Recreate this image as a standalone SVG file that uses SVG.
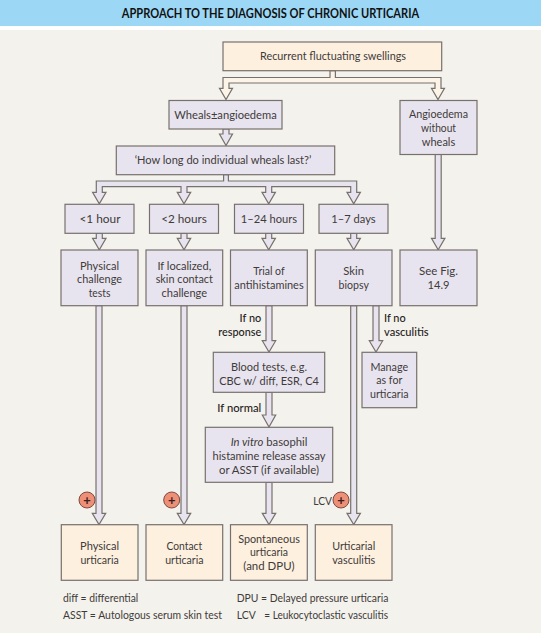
<svg xmlns="http://www.w3.org/2000/svg" width="541" height="633" viewBox="0 0 541 633">
<style>
text{font-family:"Lato","Open Sans","Liberation Sans",sans-serif;font-size:12px;fill:#3f3b3a;text-anchor:middle}
.title{font-weight:700;font-size:13.6px;fill:#111}
.l{fill:#1f1c1c;font-weight:500;text-anchor:end}
.ls{fill:#1f1c1c;font-weight:500;text-anchor:start}
.leg{font-size:11.4px;text-anchor:start}
.b{stroke:#77716d;stroke-width:1.2}
.lav{fill:#e8e4ef}
.cr{fill:#fdf0df}
.ar{stroke:#77716d;stroke-width:1.2;stroke-linejoin:miter}
.circ{fill:#ee8f78;stroke:#7c4a3e;stroke-width:1}
.plus{font-size:13px;font-weight:700;fill:#3a211b}
</style>
<rect width="541" height="633" fill="#ffffff"/>
<rect width="541" height="26" fill="#9cd7f5"/>
<rect y="30" width="541" height="603" fill="#f4f2ec"/>
<text class="title" x="270.5" y="18" textLength="297.4" lengthAdjust="spacingAndGlyphs">APPROACH TO THE DIAGNOSIS OF CHRONIC URTICARIA</text>
<g id="connectors">
<path class="ar" fill="#fdf4e8" d="M330,70.7V77.5H223V88.3H219.5L226,99.5L232.5,88.3H229V83H435V88.3H431.5L438,99.5L444.5,88.3H441V77.5H335.4V70.7Z"/>
<path class="ar lav" d="M223,129V134H219.5L226,145.5L232.5,134H229V129Z"/>
<path class="ar lav" d="M223.6,174.7V181H96.3V192.3H92.6L99.3,203.7L106,192.3H102.3V186.7H181V192.3H177.3L184,203.7L190.7,192.3H187V186.7H265.7V192.3H262L268.7,203.7L275.4,192.3H271.7V186.7H350.7V192.3H347L353.7,203.7L360.4,192.3H356.7V181H228.4V174.7Z"/>
<path class="ar lav" d="M96.3,233.3V238.3H92.6L99.3,249.7L106,238.3H102.3V233.3Z"/>
<path class="ar lav" d="M181,233.3V238.3H177.3L184,249.7L190.7,238.3H187V233.3Z"/>
<path class="ar lav" d="M265.7,233.3V238.3H262L268.7,249.7L275.4,238.3H271.7V233.3Z"/>
<path class="ar lav" d="M350.7,233.3V238.3H347L353.7,249.7L360.4,238.3H356.7V233.3Z"/>
<path class="ar lav" d="M435.2,154.5V238.3H431.5L438.2,249.7L444.9,238.3H441.2V154.5Z"/>
<path class="ar lav" d="M96,305.7V513.3H92.3L99,524.5L105.7,513.3H102V305.7Z"/>
<path class="ar lav" d="M181,305.7V513.3H177.3L184,524.5L190.7,513.3H187V305.7Z"/>
<path class="ar lav" d="M266,305.7V340.7H262.3L269,352L275.7,340.7H272V305.7Z"/>
<path class="ar lav" d="M266,392.3V415H262.3L269,427L275.7,415H272V392.3Z"/>
<path class="ar lav" d="M266,482.3V513.3H262.3L269,524.5L275.7,513.3H272V482.3Z"/>
<path class="ar lav" d="M350.7,305.7V513.3H347L353.7,524.5L360.4,513.3H356.7V305.7Z"/>
<path class="ar lav" d="M373,305.7V340.7H369.3L376,352L382.7,340.7H379V305.7Z"/>
</g>
<g id="n-recurrent"><rect class="b cr" x="223" y="42" width="218.7" height="28.7"/><text x="333" y="60" textLength="146" lengthAdjust="spacingAndGlyphs">Recurrent fluctuating swellings</text></g>
<g id="n-wheals"><rect class="b lav" x="169" y="100.5" width="113" height="28.5"/><text x="225.5" y="118.5" textLength="102.5" lengthAdjust="spacingAndGlyphs">Wheals±angioedema</text></g>
<g id="n-angio"><rect class="b lav" x="400" y="100.5" width="77" height="54"/><text x="438.5" y="118" textLength="59" lengthAdjust="spacingAndGlyphs">Angioedema</text><text x="438.5" y="132" textLength="35" lengthAdjust="spacingAndGlyphs">without</text><text x="438.5" y="146" textLength="33.5" lengthAdjust="spacingAndGlyphs">wheals</text></g>
<g id="n-howlong"><rect class="b lav" x="116.3" y="146" width="218.4" height="28.7"/><text x="223" y="164" textLength="176.7" lengthAdjust="spacingAndGlyphs">‘How long do individual wheals last?’</text></g>
<g id="n-1h"><rect class="b lav" x="65" y="204.3" width="69" height="29"/><text x="100" y="223" textLength="41" lengthAdjust="spacingAndGlyphs">&lt;1 hour</text></g>
<g id="n-2h"><rect class="b lav" x="149.5" y="204.3" width="69" height="29"/><text x="184" y="223" textLength="45.7" lengthAdjust="spacingAndGlyphs">&lt;2 hours</text></g>
<g id="n-24h"><rect class="b lav" x="234.5" y="204.3" width="69" height="29"/><text x="269" y="223" textLength="56.3" lengthAdjust="spacingAndGlyphs">1–24 hours</text></g>
<g id="n-7d"><rect class="b lav" x="319" y="204.3" width="69" height="29"/><text x="353.5" y="223" textLength="44.3" lengthAdjust="spacingAndGlyphs">1–7 days</text></g>
<g id="n-physical"><rect class="b lav" x="61" y="250" width="77" height="55.7"/><text x="99.5" y="269.5" textLength="39" lengthAdjust="spacingAndGlyphs">Physical</text><text x="99.5" y="283" textLength="45" lengthAdjust="spacingAndGlyphs">challenge</text><text x="99.5" y="297" textLength="21.7" lengthAdjust="spacingAndGlyphs">tests</text></g>
<g id="n-local"><rect class="b lav" x="146" y="250" width="76.7" height="55.7"/><text x="184.3" y="269.5" textLength="53.7" lengthAdjust="spacingAndGlyphs">If localized,</text><text x="184.3" y="283" textLength="57.3" lengthAdjust="spacingAndGlyphs">skin contact</text><text x="184.3" y="297" textLength="45.7" lengthAdjust="spacingAndGlyphs">challenge</text></g>
<g id="n-trial"><rect class="b lav" x="230.5" y="250" width="76.8" height="55.7"/><text x="269" y="275" textLength="31.3" lengthAdjust="spacingAndGlyphs">Trial of</text><text x="269" y="289" textLength="69.3" lengthAdjust="spacingAndGlyphs">antihistamines</text></g>
<g id="n-skin"><rect class="b lav" x="315.3" y="250" width="76.7" height="55.7"/><text x="353.7" y="275" textLength="20.7" lengthAdjust="spacingAndGlyphs">Skin</text><text x="353.7" y="289" textLength="30.3" lengthAdjust="spacingAndGlyphs">biopsy</text></g>
<g id="n-seefig"><rect class="b lav" x="400" y="250" width="77" height="55.7"/><text x="438.5" y="275" textLength="39" lengthAdjust="spacingAndGlyphs">See Fig.</text><text x="438.5" y="289" textLength="22" lengthAdjust="spacingAndGlyphs">14.9</text></g>
<g id="n-blood"><rect class="b lav" x="213.3" y="352.3" width="111.4" height="40"/><text x="269" y="371" textLength="76" lengthAdjust="spacingAndGlyphs">Blood tests, e.g.</text><text x="269" y="385" textLength="99.7" lengthAdjust="spacingAndGlyphs">CBC w/ diff, ESR, C4</text></g>
<g id="n-manage"><rect class="b lav" x="362" y="352.3" width="54.7" height="55.4"/><text x="389.3" y="370.5" textLength="37.7" lengthAdjust="spacingAndGlyphs">Manage</text><text x="389.3" y="384.3" textLength="26" lengthAdjust="spacingAndGlyphs">as for</text><text x="389.3" y="398" textLength="38.7" lengthAdjust="spacingAndGlyphs">urticaria</text></g>
<g id="n-invitro"><rect class="b lav" x="205.3" y="427.3" width="127.4" height="55"/><text x="269" y="446" textLength="76.7" lengthAdjust="spacingAndGlyphs"><tspan font-style="italic">In vitro</tspan> basophil</text><text x="269" y="460" textLength="113" lengthAdjust="spacingAndGlyphs">histamine release assay</text><text x="269" y="473.5" textLength="100" lengthAdjust="spacingAndGlyphs">or ASST (if available)</text></g>
<g id="n-phys-u"><rect class="b cr" x="61.3" y="524.7" width="76.7" height="55.6"/><text x="99.6" y="550" textLength="39" lengthAdjust="spacingAndGlyphs">Physical</text><text x="99.6" y="563.7" textLength="38.3" lengthAdjust="spacingAndGlyphs">urticaria</text></g>
<g id="n-contact-u"><rect class="b cr" x="146" y="524.7" width="76.7" height="55.6"/><text x="184.3" y="550" textLength="35.7" lengthAdjust="spacingAndGlyphs">Contact</text><text x="184.3" y="563.7" textLength="38.3" lengthAdjust="spacingAndGlyphs">urticaria</text></g>
<g id="n-spont-u"><rect class="b cr" x="230.5" y="524.7" width="76.8" height="55.6"/><text x="269" y="542.7" textLength="61.7" lengthAdjust="spacingAndGlyphs">Spontaneous</text><text x="269" y="556.3" textLength="38" lengthAdjust="spacingAndGlyphs">urticaria</text><text x="269" y="570" textLength="51.3" lengthAdjust="spacingAndGlyphs">(and DPU)</text></g>
<g id="n-vasc-u"><rect class="b cr" x="315.3" y="524.7" width="76.7" height="55.6"/><text x="353.7" y="550" textLength="43" lengthAdjust="spacingAndGlyphs">Urticarial</text><text x="353.7" y="563.7" textLength="43" lengthAdjust="spacingAndGlyphs">vasculitis</text></g>
<g id="labels">
<text class="l" x="261.3" y="322" textLength="21.7" lengthAdjust="spacingAndGlyphs">If no</text><text class="l" x="261.3" y="336" textLength="43" lengthAdjust="spacingAndGlyphs">response</text>
<text class="ls" x="384" y="322" textLength="21.7" lengthAdjust="spacingAndGlyphs">If no</text><text class="ls" x="384" y="336" textLength="44.7" lengthAdjust="spacingAndGlyphs">vasculitis</text>
<text class="l" x="261.3" y="412" textLength="44" lengthAdjust="spacingAndGlyphs">If normal</text>
<text x="322.6" y="504.5" textLength="18.7" lengthAdjust="spacingAndGlyphs">LCV</text>
</g>
<g id="plus1"><circle class="circ" cx="87" cy="500" r="8"/><text class="plus" x="87" y="504.5">+</text></g>
<g id="plus2"><circle class="circ" cx="171.7" cy="500" r="8"/><text class="plus" x="171.7" y="504.5">+</text></g>
<g id="plus3"><circle class="circ" cx="341" cy="500" r="8"/><text class="plus" x="341" y="504.5">+</text></g>
<g id="legend">
<text class="leg" x="63" y="602" textLength="75.3" lengthAdjust="spacingAndGlyphs">diff = differential</text>
<text class="leg" x="63" y="618.5" textLength="159" lengthAdjust="spacingAndGlyphs">ASST = Autologous serum skin test</text>
<text class="leg" x="236.7" y="602" textLength="151.7" lengthAdjust="spacingAndGlyphs">DPU = Delayed pressure urticaria</text>
<text class="leg" x="236.7" y="618.5" textLength="19" lengthAdjust="spacingAndGlyphs">LCV</text><text class="leg" x="264.3" y="618.5" textLength="123.7" lengthAdjust="spacingAndGlyphs">= Leukocytoclastic vasculitis</text>
</g>
</svg>
